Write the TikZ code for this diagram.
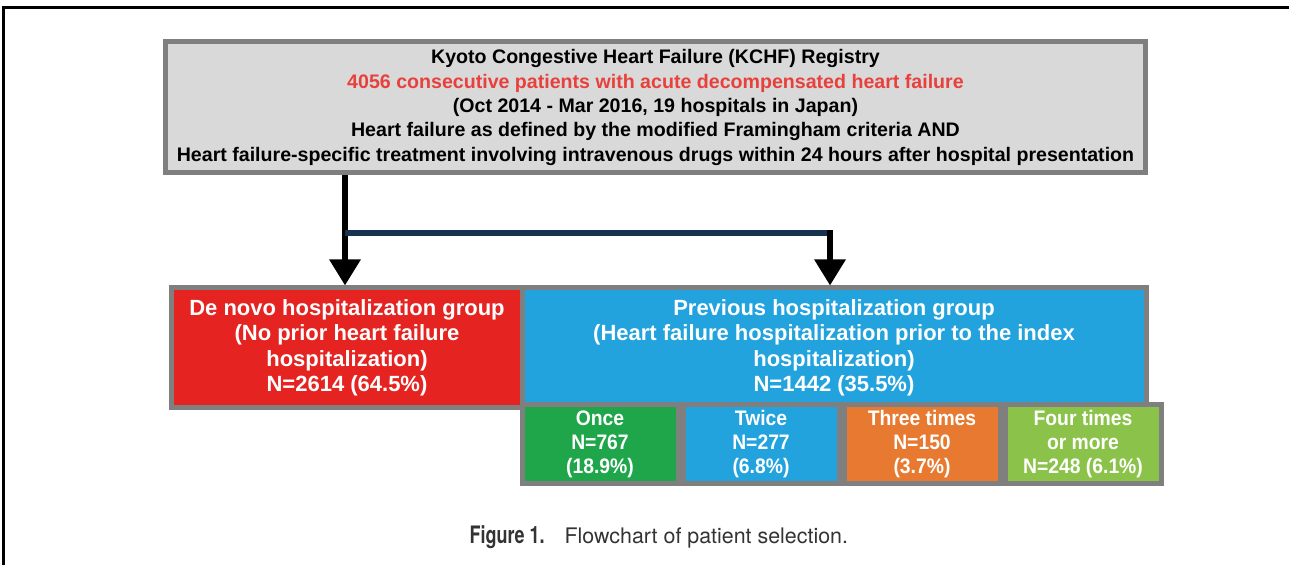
\documentclass[tikz,border=0pt]{standalone}
\usepackage{fontspec}
\setmainfont{Liberation Sans}
\newfontfamily\cellfont[FakeStretch=0.92]{Liberation Sans}
\newfontfamily\capfont{TeX Gyre Heros}
\newfontfamily\capboldfont[FakeStretch=0.75]{TeX Gyre Heros}
\usepackage{xcolor}
\usetikzlibrary{arrows.meta,positioning,calc}
\definecolor{boxgray}{HTML}{D9D9D9}
\definecolor{framegray}{HTML}{7F7F7F}
\definecolor{kred}{HTML}{E52320}
\definecolor{kblue}{HTML}{22A3DD}
\definecolor{kgreen}{HTML}{1FA64B}
\definecolor{korange}{HTML}{E77A30}
\definecolor{klime}{HTML}{8BC34A}
\definecolor{knavy}{HTML}{17324F}
\definecolor{redtext}{HTML}{E8403C}
\definecolor{captext}{HTML}{333333}

\begin{document}
\begin{tikzpicture}[
	x=0.5pt, y=-0.5pt,
	every node/.style = {shape=rectangle, align=center, inner sep=0pt,
	draw=framegray, line width=2.5pt, font=\bfseries},
	regbox/.style = {fill=boxgray, minimum width=490pt, minimum height=65.5pt,
	font=\fontsize{9.8}{12.2}\bfseries},
	groupbox/.style = {text=white, minimum height=60pt,
	font=\fontsize{11}{12.7}\bfseries},
	countbox/.style = {text=white, minimum width=78pt, minimum height=39.5pt,
	font=\cellfont\fontsize{10.5}{12}\bfseries},
	arr/.style = {-{Triangle[width=15pt,length=13pt]}, line width=3pt, black},
	link/.style = {line width=3pt, knavy}
]
\useasboundingbox (0,0) rectangle (1289,565);
% frame of the page
\draw[line width=1.5pt] (3,565) -- (3,8) -- (1289,8);

% registry
\node[regbox] (registry) at (655.5,107.5)
	{Kyoto Congestive Heart Failure (KCHF) Registry\\
	\textcolor{redtext}{4056 consecutive patients with acute decompensated heart failure}\\
	(Oct 2014 - Mar 2016, 19 hospitals in Japan)\\
	Heart failure as defined by the modified Framingham criteria AND\\
	Heart failure-specific treatment involving intravenous drugs within 24 hours after hospital presentation};

% two groups
\node[groupbox, fill=kred, minimum width=176pt] (denovo) at (347,348)
	{De novo hospitalization group\\(No prior heart failure\\hospitalization)\\N=2614 (64.5\%)};
\node[groupbox, fill=kblue, minimum width=312pt] (previous) at (834,348)
	{Previous hospitalization group\\(Heart failure hospitalization prior to the index\\hospitalization)\\N=1442 (35.5\%)};

% number of previous hospitalizations
\node[countbox, fill=kgreen] (once) at (600,444.5) {Once\\N=767\\(18.9\%)};
\node[countbox, fill=kblue, right=0pt of once] (twice) {Twice\\N=277\\(6.8\%)};
\node[countbox, fill=korange, right=0pt of twice] (three) {Three times\\N=150\\(3.7\%)};
\node[countbox, fill=klime, right=0pt of three] (four) {Four times\\or more\\N=248 (6.1\%)};

% connectors
\coordinate (split) at (345,233);
\coordinate (turn) at (830,233);
\draw[arr] (registry.south -| split) -- (split |- denovo.north);
\draw[link] (split) -- (turn);
\draw[arr] ([yshift=1.5pt]turn) -- (turn |- previous.north);

% caption
\node[draw=none, text=captext, anchor=west, font=\capfont\fontsize{10.7}{12}\selectfont] (caption) at (467,537)
	{{\capboldfont\fontsize{12}{12}\selectfont\bfseries Figure 1.}\hspace{10pt}Flowchart of patient selection.};
\end{tikzpicture}
\end{document}
